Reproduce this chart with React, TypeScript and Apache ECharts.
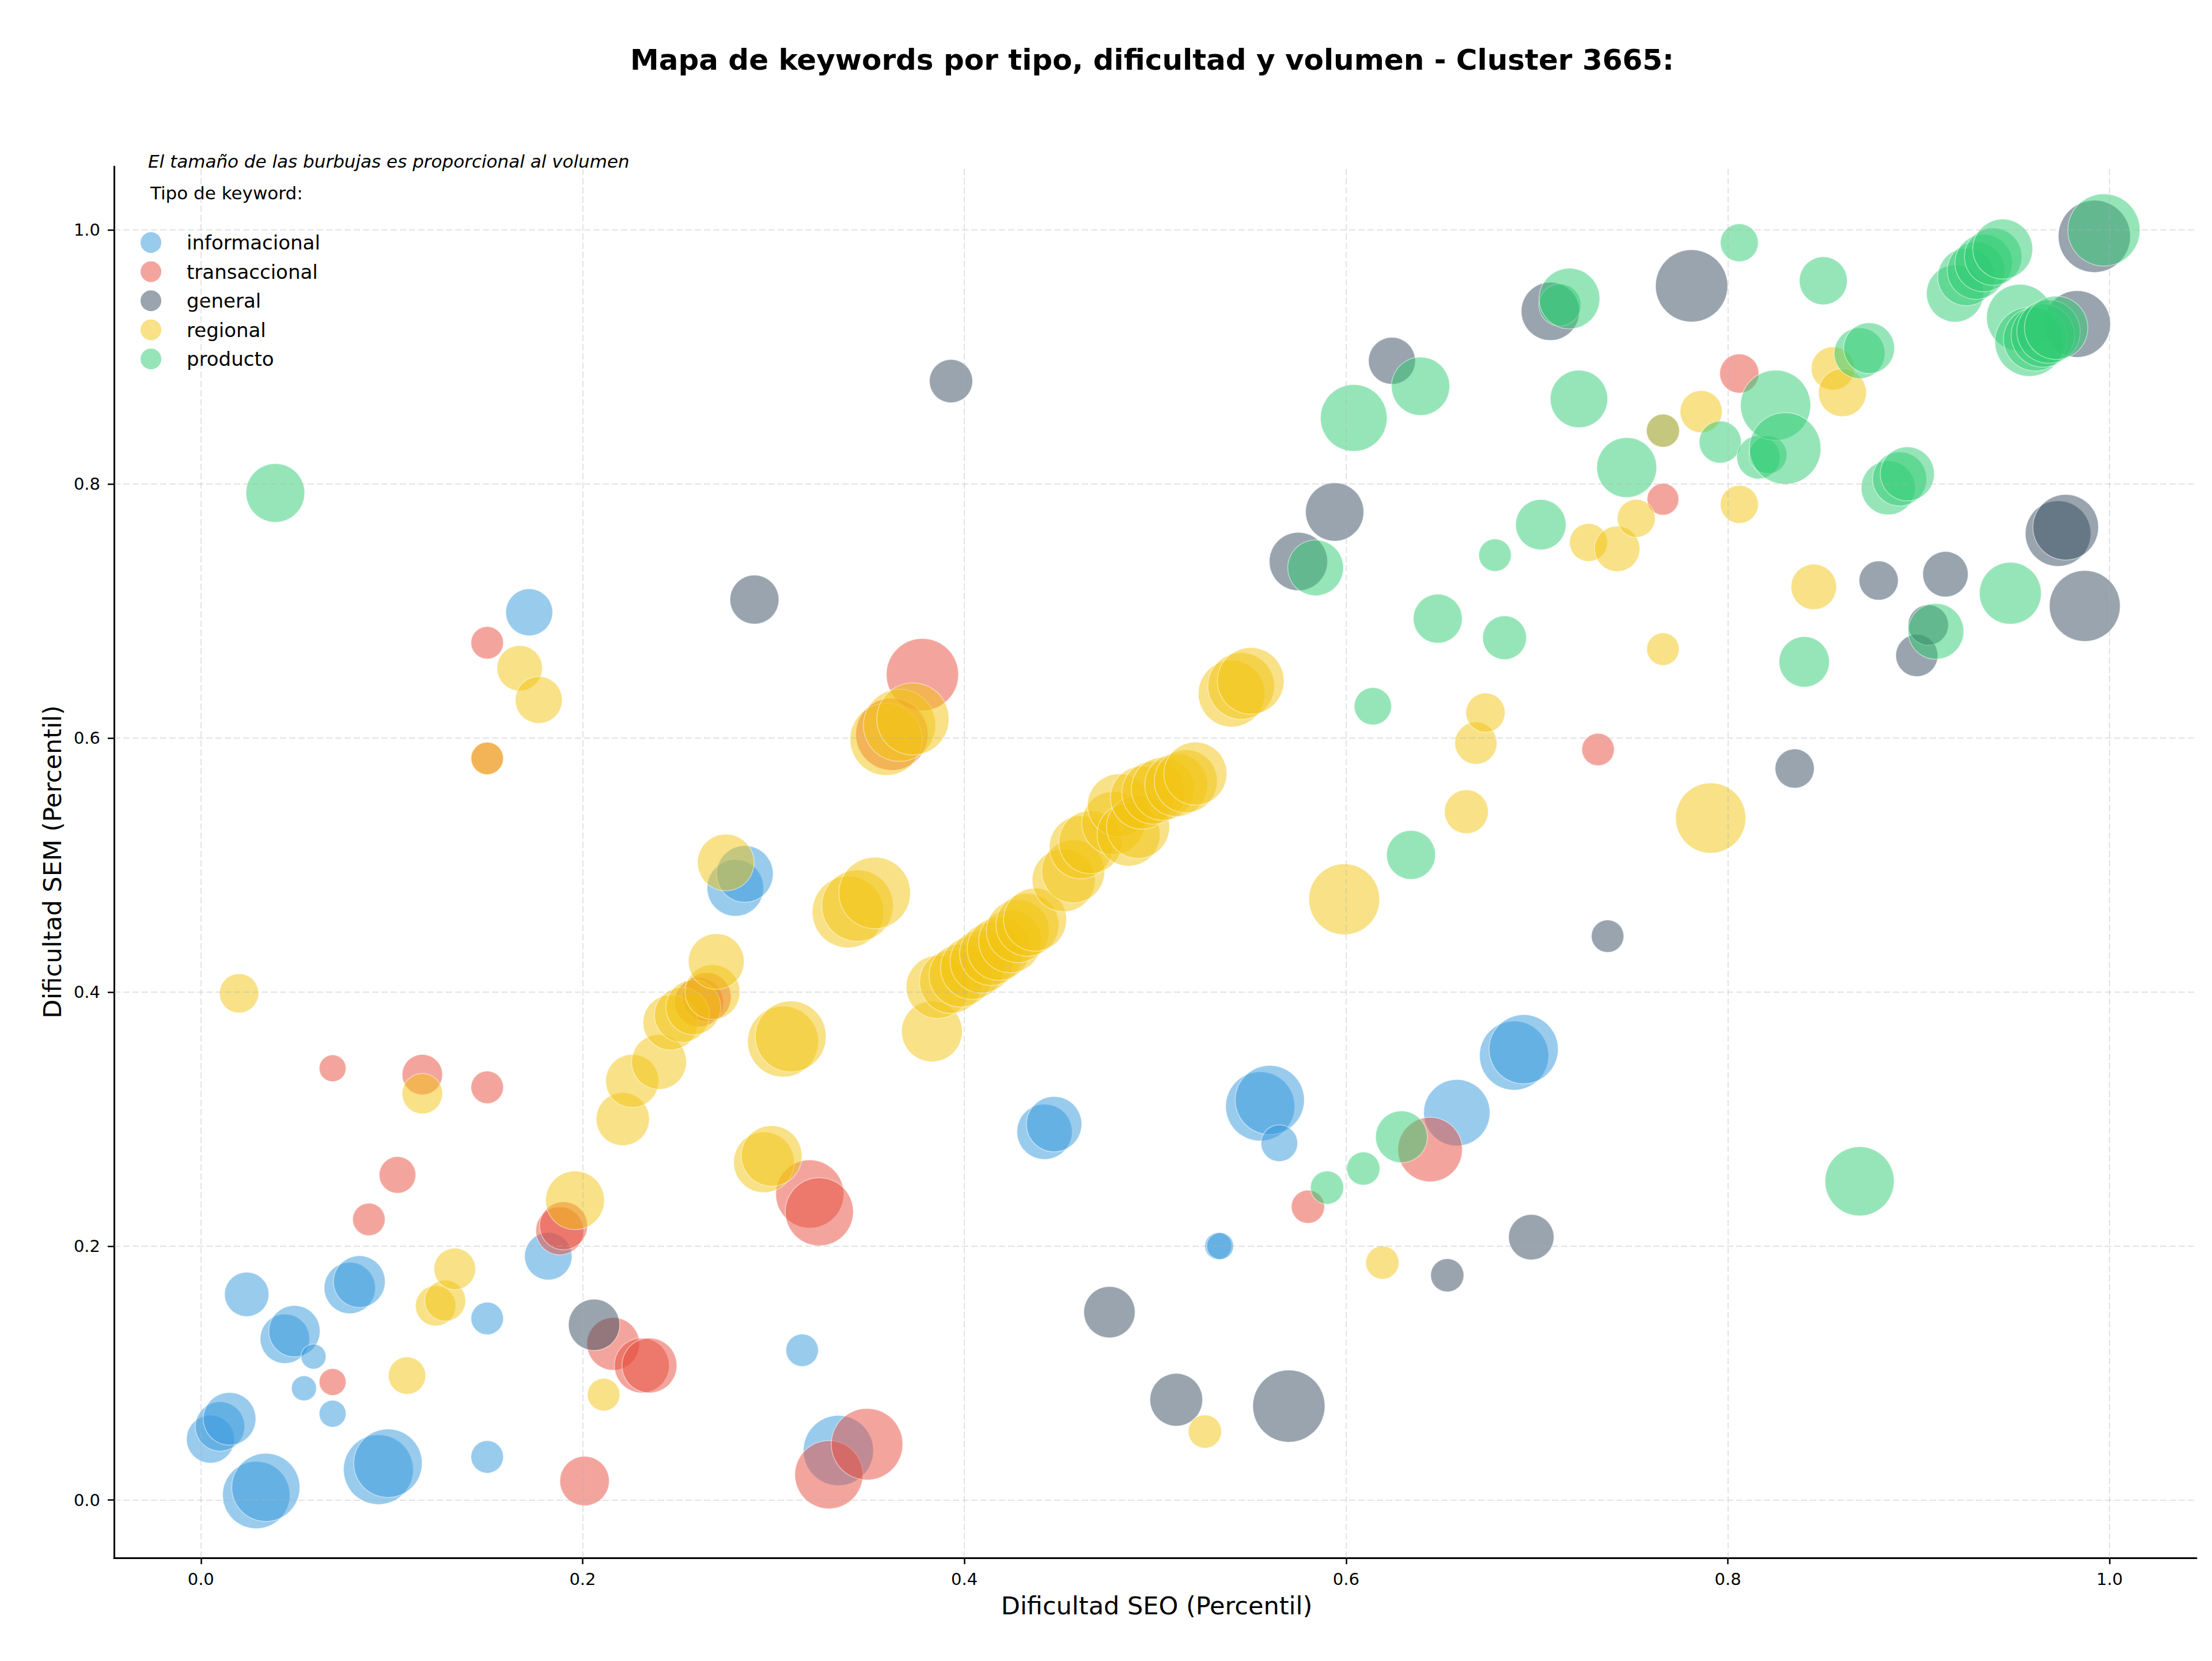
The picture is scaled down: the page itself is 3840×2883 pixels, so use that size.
import React, { useEffect, useRef } from "react";
import * as echarts from "echarts";

// Keyword types and their colours
const TIPOS = ["informacional", "transaccional", "general", "regional", "producto"];
const COLORES = ["#3498db", "#e74c3c", "#34495e", "#f1c40f", "#2ecc71"];
const TICKS = [0, 0.2, 0.4, 0.6, 0.8, 1.0];

// informacional
const infoSeo = [0.005, 0.010, 0.015, 0.029, 0.034, 0.024, 0.044, 0.049, 0.059, 0.054, 0.069, 0.078, 0.083, 0.093, 0.098, 0.150, 0.150, 0.182, 0.172, 0.280, 0.285, 0.315, 0.334, 0.442, 0.447, 0.533, 0.534, 0.555, 0.560, 0.565, 0.658, 0.688, 0.693, 0.766];
const infoSem = [0.048, 0.058, 0.064, 0.004, 0.010, 0.162, 0.127, 0.133, 0.113, 0.088, 0.068, 0.167, 0.172, 0.024, 0.029, 0.143, 0.034, 0.192, 0.699, 0.482, 0.493, 0.118, 0.039, 0.290, 0.296, 0.200, 0.200, 0.310, 0.315, 0.281, 0.305, 0.350, 0.355, 0.842];
const infoVol = [48, 51, 58, 95, 97, 41, 51, 55, 13, 13, 15, 55, 56, 102, 98, 22, 22, 47, 46, 67, 67, 22, 103, 64, 64, 15, 15, 100, 100, 28, 92, 100, 100, 23];

// transaccional
const tranSeo = [0.069, 0.116, 0.150, 0.150, 0.150, 0.103, 0.088, 0.069, 0.188, 0.190, 0.201, 0.216, 0.231, 0.235, 0.261, 0.265, 0.319, 0.324, 0.329, 0.349, 0.378, 0.362, 0.580, 0.644, 0.732, 0.766, 0.806];
const tranSem = [0.340, 0.335, 0.325, 0.675, 0.584, 0.256, 0.221, 0.093, 0.212, 0.216, 0.015, 0.123, 0.106, 0.106, 0.392, 0.396, 0.241, 0.227, 0.020, 0.044, 0.650, 0.603, 0.231, 0.276, 0.591, 0.788, 0.887];
const tranVol = [15, 34, 22, 22, 22, 28, 22, 15, 48, 48, 51, 58, 63, 63, 50, 50, 97, 97, 97, 107, 109, 109, 23, 87, 22, 21, 32];

// general
const geneSeo = [0.206, 0.290, 0.393, 0.476, 0.511, 0.570, 0.575, 0.594, 0.624, 0.653, 0.697, 0.707, 0.737, 0.781, 0.835, 0.879, 0.899, 0.905, 0.914, 0.973, 0.977, 0.983, 0.987, 0.992];
const geneSem = [0.138, 0.709, 0.881, 0.148, 0.079, 0.074, 0.739, 0.778, 0.897, 0.177, 0.207, 0.936, 0.444, 0.956, 0.576, 0.724, 0.665, 0.689, 0.729, 0.761, 0.766, 0.926, 0.704, 0.995];
const geneVol = [55, 50, 39, 55, 58, 109, 71, 71, 46, 23, 43, 71, 22, 109, 32, 32, 37, 34, 43, 90, 90, 93, 105, 109];

// regional
const regiSeo = [0.020, 0.108, 0.116, 0.123, 0.128, 0.133, 0.150, 0.167, 0.177, 0.196, 0.211, 0.221, 0.226, 0.240, 0.246, 0.252, 0.258, 0.268, 0.270, 0.275, 0.295, 0.299, 0.305, 0.309, 0.339, 0.344, 0.353, 0.359, 0.366, 0.373, 0.383,
  0.386, 0.393, 0.398, 0.404, 0.409, 0.414, 0.418, 0.424, 0.428, 0.433, 0.437,
  0.452, 0.457, 0.461, 0.466, 0.478, 0.481, 0.486, 0.491, 0.493, 0.499, 0.504, 0.511, 0.516, 0.521,
  0.540, 0.545, 0.550, 0.526, 0.599, 0.619, 0.663, 0.668, 0.673, 0.727, 0.742, 0.752, 0.766, 0.766, 0.786, 0.791, 0.806, 0.845, 0.855, 0.860];
const regiSem = [0.399, 0.098, 0.320, 0.153, 0.157, 0.182, 0.584, 0.655, 0.630, 0.236, 0.083, 0.300, 0.330, 0.345, 0.376, 0.382, 0.388, 0.400, 0.424, 0.502, 0.266, 0.271, 0.361, 0.365, 0.463, 0.468, 0.478, 0.599, 0.610, 0.615, 0.369,
  0.404, 0.408, 0.413, 0.419, 0.424, 0.430, 0.434, 0.440, 0.448, 0.453, 0.457,
  0.488, 0.495, 0.514, 0.518, 0.533, 0.547, 0.524, 0.530, 0.553, 0.557, 0.560, 0.563, 0.566, 0.572,
  0.635, 0.641, 0.645, 0.054, 0.473, 0.187, 0.542, 0.596, 0.620, 0.754, 0.749, 0.773, 0.670, 0.842, 0.857, 0.537, 0.784, 0.719, 0.891, 0.872];
const regiVol = [32, 29, 34, 34, 35, 36, 22, 43, 46, 72, 22, 59, 59, 63, 63, 63, 63, 63, 65, 67, 77, 77, 105, 105, 107, 107, 107, 109, 109, 109, 77,
  83, 83, 83, 83, 83, 83, 83, 83, 83, 83, 83,
  83, 83, 83, 83, 83, 83, 83, 83, 83, 83, 83, 83, 83, 83,
  93, 93, 93, 23, 105, 23, 40, 37, 32, 30, 43, 30, 22, 23, 37, 103, 30, 43, 39, 48];

// producto
const prodSeo = [0.039, 0.584, 0.590, 0.604, 0.609, 0.614, 0.629, 0.634, 0.639, 0.648, 0.678, 0.683, 0.702, 0.712, 0.717, 0.722, 0.747, 0.796, 0.806, 0.816, 0.821, 0.825, 0.830, 0.840, 0.850, 0.869, 0.869, 0.874, 0.884, 0.890, 0.894, 0.909, 0.919, 0.925, 0.930, 0.934, 0.939, 0.944, 0.948, 0.953, 0.958, 0.961, 0.965, 0.968, 0.972, 0.997];
const prodSem = [0.793, 0.734, 0.246, 0.852, 0.261, 0.625, 0.286, 0.508, 0.877, 0.694, 0.744, 0.679, 0.768, 0.941, 0.946, 0.867, 0.813, 0.833, 0.990, 0.821, 0.823, 0.862, 0.828, 0.660, 0.960, 0.251, 0.903, 0.907, 0.797, 0.804, 0.808, 0.684, 0.950, 0.963, 0.968, 0.974, 0.979, 0.985, 0.714, 0.931, 0.912, 0.914, 0.917, 0.920, 0.923, 1.000];
const prodVol = [72, 65, 23, 93, 23, 29, 56, 50, 71, 50, 22, 40, 53, 37, 77, 69, 75, 37, 30, 39, 30, 103, 107, 53, 48, 100, 54, 54, 61, 61, 61, 65, 68, 69, 69, 69, 69, 75, 80, 93, 100, 84, 84, 84, 84, 109];

const GRUPOS = [
  { seo: infoSeo, sem: infoSem, vol: infoVol },
  { seo: tranSeo, sem: tranSem, vol: tranVol },
  { seo: geneSeo, sem: geneSem, vol: geneVol },
  { seo: regiSeo, sem: regiSem, vol: regiVol },
  { seo: prodSeo, sem: prodSem, vol: prodVol },
];

const FONT = '"DejaVu Sans", "Noto Sans", sans-serif';

export default function App() {
  const ref = useRef<HTMLDivElement>(null);

  useEffect(() => {
    if (!ref.current) return;
    const chart = echarts.init(ref.current, null, { renderer: "svg" });

    const scatterSeries = TIPOS.map((tipo, k) => ({
      name: tipo,
      type: "scatter",
      z: 2,
      data: GRUPOS[k].seo.map((x, i) => [x, GRUPOS[k].sem[i], GRUPOS[k].vol[i]]),
      symbol: "circle",
      symbolSize: (v: number[]) => Math.sqrt(v[2]) * 12,
      itemStyle: {
        color: COLORES[k],
        opacity: 0.5,
        borderColor: "#ffffff",
        borderWidth: 1.5,
      },
      emphasis: { disabled: true },
    }));

    // dashed grid drawn above the bubbles
    const gridSeries = {
      name: "grid",
      type: "scatter",
      z: 5,
      data: [],
      silent: true,
      markLine: {
        silent: true,
        symbol: ["none", "none"],
        label: { show: false },
        lineStyle: { type: [11, 5], color: "#b0b0b0", opacity: 0.35, width: 2 },
        data: [
          ...TICKS.map((v) => ({ xAxis: v })),
          ...TICKS.map((v) => ({ yAxis: v })),
        ],
      },
    };

    const legendItems: any[] = [];
    TIPOS.forEach((tipo, k) => {
      const cy = 421 + k * 50.5;
      legendItems.push({
        type: "circle",
        shape: { cx: 262, cy, r: 18 },
        style: { fill: COLORES[k], opacity: 0.5 },
      });
      legendItems.push({
        type: "text",
        x: 324,
        y: cy,
        style: {
          text: tipo,
          fontSize: 34,
          fontFamily: FONT,
          fill: "#000",
          align: "left",
          verticalAlign: "middle",
        },
      });
    });

    const axisLabel = {
      customValues: TICKS,
      formatter: (v: number) => v.toFixed(1),
      fontSize: 29,
      color: "#000",
      fontFamily: FONT,
    };

    chart.setOption({
      animation: false,
      backgroundColor: "#ffffff",
      grid: { left: 198, top: 289, width: 3615, height: 2415, containLabel: false },
      xAxis: {
        type: "value",
        min: -0.0455,
        max: 1.0455,
        splitLine: { show: false },
        axisLine: { show: true, onZero: false, lineStyle: { color: "#000", width: 3 } },
        axisTick: { show: true, customValues: TICKS, length: 11, lineStyle: { color: "#000", width: 2.5 } },
        axisLabel: { ...axisLabel, margin: 22 },
      },
      yAxis: {
        type: "value",
        min: -0.0455,
        max: 1.05,
        splitLine: { show: false },
        axisLine: { show: true, onZero: false, lineStyle: { color: "#000", width: 3 } },
        axisTick: { show: true, customValues: TICKS, length: 11, lineStyle: { color: "#000", width: 2.5 } },
        axisLabel: { ...axisLabel, margin: 24 },
      },
      series: [gridSeries, ...scatterSeries],
      graphic: [
        {
          type: "text",
          x: 2000,
          y: 104,
          style: {
            text: "Mapa de keywords por tipo, dificultad y volumen - Cluster 3665:",
            fontSize: 50,
            fontWeight: "bold",
            fontFamily: FONT,
            fill: "#000",
            align: "center",
            verticalAlign: "middle",
          },
        },
        {
          type: "text",
          x: 2008,
          y: 2787,
          style: {
            text: "Dificultad SEO (Percentil)",
            fontSize: 43,
            fontFamily: FONT,
            fill: "#000",
            align: "center",
            verticalAlign: "middle",
          },
        },
        {
          type: "text",
          x: 91,
          y: 1496,
          rotation: Math.PI / 2,
          style: {
            text: "Dificultad SEM (Percentil)",
            fontSize: 43,
            fontFamily: FONT,
            fill: "#000",
            align: "center",
            verticalAlign: "middle",
          },
        },
        {
          type: "text",
          x: 257,
          y: 280,
          style: {
            text: "El tamaño de las burbujas es proporcional al volumen",
            fontSize: 31,
            fontStyle: "italic",
            fontFamily: FONT,
            fill: "#000",
            align: "left",
            verticalAlign: "middle",
          },
        },
        {
          type: "text",
          x: 261,
          y: 335,
          style: {
            text: "Tipo de keyword:",
            fontSize: 31,
            fontFamily: FONT,
            fill: "#000",
            align: "left",
            verticalAlign: "middle",
          },
        },
        ...legendItems,
      ],
    });

    return () => chart.dispose();
  }, []);

  return (
    <div
      ref={ref}
      style={{ position: "absolute", left: 0, top: 0, width: 3840, height: 2883, background: "#fff" }}
    />
  );
}
